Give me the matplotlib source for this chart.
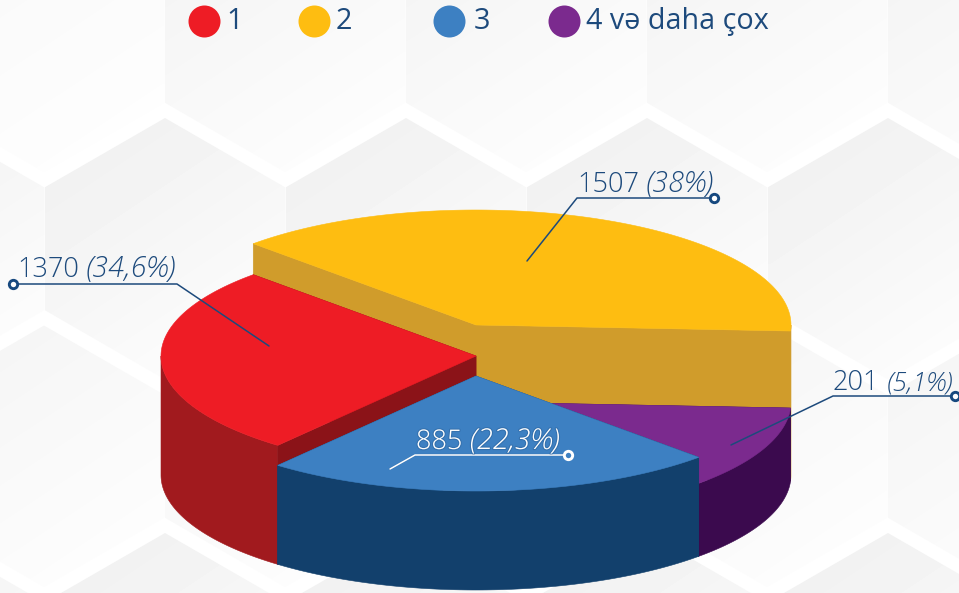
import numpy as np
import matplotlib
matplotlib.use("Agg")
import matplotlib.pyplot as plt
import matplotlib.patheffects as pe
from matplotlib.patches import Polygon

# --- data ---
categories = ["1", "2", "3", "4 və daha çox"]
counts = [1370, 1507, 885, 201]
percent_labels = ["34,6%", "38%", "22,3%", "5,1%"]
# The slices in the reference are not proportional to their labels;
# these are the sweep angles actually drawn there (parametric degrees).
drawn_sweep_deg = {"2": 138, "1": 96, "3": 84, "4 və daha çox": 42}
slice_height = {"2": 150, "1": 119, "3": 99, "4 və daha çox": 73}

# --- styles ---
top_color = {"1": "#EE1C25", "2": "#FEBD11", "3": "#3D80C2", "4 və daha çox": "#7B2A8E"}
wall_color = {"1": "#A11A1E", "2": "#D09C2B", "3": "#12406C", "4 və daha çox": "#3B0A4E"}
face_color = {"1": "#8B1318", "2": "#D09C2B", "3": "#12406C", "4 və daha çox": "#3B0A4E"}
NAVY = "#1D4A7C"
FONT = "Open Sans"
CX, BASE_Y, RX, RY = 476, 475, 315, 115
START_DEG = 357

fig = plt.figure(figsize=(9.59, 5.93), dpi=100)
ax = fig.add_axes([0, 0, 1, 1])
ax.set_axis_off()

# --- hexagon backdrop ---
def hexagon(cx, ty):
    return [(cx, ty), (cx + 120.5, ty + 69.5), (cx + 120.5, ty + 192),
            (cx, ty + 261.5), (cx - 120.5, ty + 192), (cx - 120.5, ty + 69.5)]

grad_y, grad_x = np.mgrid[0:1:64j, 0:1:64j]
gradient = np.clip(0.62 * grad_y + 0.38 * grad_x, 0, 1)
for row, ty in enumerate([-89.5, 118, 325.5, 533]):
    offset = 44 if row % 2 == 0 else 165
    for col in range(-1, 6):
        cx = offset + 241 * col
        poly = Polygon(hexagon(cx, ty), closed=True, transform=ax.transData, fc="none", ec="none")
        ax.add_patch(poly)
        low = 0.935 if row in (1, 3) else 0.955
        if row == 0:
            low = 0.97 if cx < 165 else 0.95
        im = ax.imshow(low + (0.998 - low) * gradient, cmap="gray", vmin=0, vmax=1, aspect="auto",
                       extent=(cx - 120.5, cx + 120.5, ty + 261.5, ty), zorder=1, interpolation="bilinear")
        im.set_clip_path(poly)

# --- stepped 3D pie ---
def rim(theta_deg, cy):
    t = np.radians(theta_deg)
    return CX + RX * np.cos(t), cy - RY * np.sin(t)

def draw(points, color, z):
    ax.add_patch(Polygon(points, closed=True, fc=color, ec=color, lw=0.4, zorder=z))

def slice3d(name, a1, a2, z):
    h = slice_height[name]
    top_y = BASE_Y - h
    for lo, hi in [(180, 360), (540, 720)]:
        b1, b2 = max(a1, lo), min(a2, hi)
        if b2 > b1:
            th = np.linspace(b1, b2, 120)
            xs, ys = rim(th, top_y)
            xb, yb = rim(th[::-1], BASE_Y)
            draw(np.r_[np.c_[xs, ys], np.c_[xb, yb]], wall_color[name], z)
    for a in (a1, a2):
        x, y = rim(a, top_y)
        xb, yb = rim(a, BASE_Y)
        draw([(CX, top_y), (x, y), (xb, yb), (CX, BASE_Y)], face_color[name], z + 0.1)
    th = np.linspace(a1, a2, 200)
    xs, ys = rim(th, top_y)
    draw(np.r_[[(CX, top_y)], np.c_[xs, ys]], top_color[name], z + 0.2)

angle = START_DEG
spans = {}
for name in ["2", "1", "3", "4 və daha çox"]:
    spans[name] = (angle, angle + drawn_sweep_deg[name])
    angle += drawn_sweep_deg[name]
for z, name in enumerate(["2", "4 və daha çox", "1", "3"]):
    slice3d(name, *spans[name], 3 + z)

# --- legend ---
legend_dot_x = [204, 314, 449, 564]
legend_text_x = [226, 336, 474, 586]
for name, dx, tx in zip(categories, legend_dot_x, legend_text_x):
    ax.scatter([dx], [21], s=(32 * 0.72) ** 2, color=top_color[name], linewidths=0, zorder=10)
    ax.text(tx, 29, name, fontsize=20.7, family=FONT, color=NAVY, va="baseline", ha="left", zorder=10)

# --- callouts ---
renderer = fig.canvas.get_renderer()
ax.set_xlim(0, 959)
ax.set_ylim(593, 0)

def callout(count, pct, text_x, base_y, path, color, pct_size):
    halo = [pe.withStroke(linewidth=1.6, foreground="#2A5F96", alpha=0.45)] if color == "white" else None
    xs, ys = zip(*path)
    ax.plot(xs, ys, color=color, lw=1.1, zorder=11, solid_capstyle="round", path_effects=halo)
    ax.scatter([xs[0]], [ys[0]], s=36, facecolor="white" if color != "white" else "#3D80C2",
               edgecolor=color if color == "white" else "#17497F", linewidths=2.1, zorder=12)
    t = ax.text(text_x, base_y, f"{count}", fontsize=19.5, family=FONT, fontweight="light", color=color,
                va="baseline", ha="left", zorder=12, path_effects=halo)
    bb = t.get_window_extent(renderer)
    ax.text(bb.x1 + 7, base_y, f"({pct})", fontsize=pct_size, family=FONT, fontweight="light",
            style="italic", color=color, va="baseline", ha="left", zorder=12, path_effects=halo)

callout(counts[0], percent_labels[0], 17, 277, [(13, 284), (177, 284), (269, 346)], NAVY, 20.7)
callout(counts[1], percent_labels[1], 577, 192, [(714, 198), (577, 198), (527, 261)], NAVY, 20.7)
callout(counts[3], percent_labels[3], 833, 390, [(955, 396), (833, 396), (731, 445)], NAVY, 18.5)
callout(counts[2], percent_labels[2], 416, 449, [(568, 455), (415, 455), (390, 469)], "white", 20.7)

ax.set_xlim(0, 959)
ax.set_ylim(593, 0)
fig.savefig("out.png", dpi=100, facecolor="white")
